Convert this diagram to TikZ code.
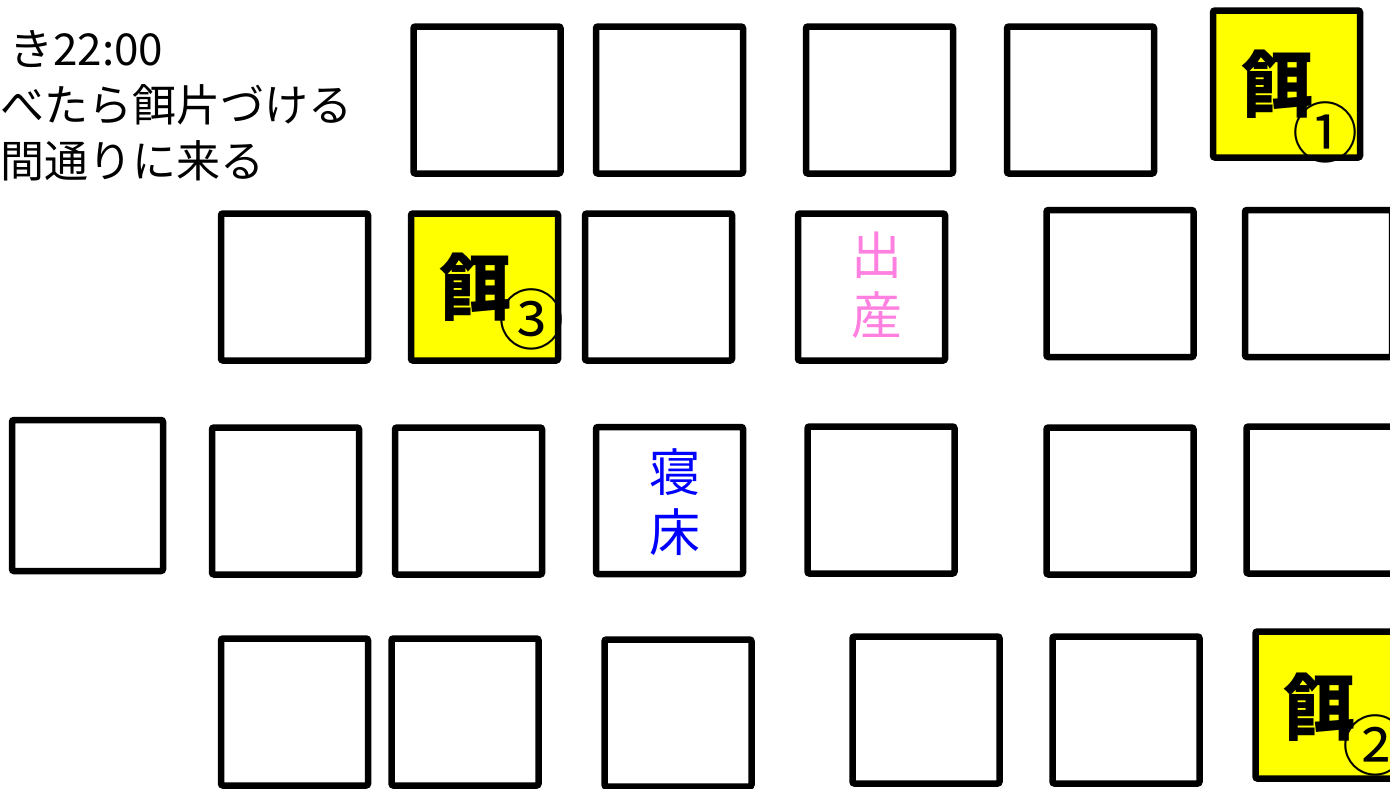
\documentclass[tikz,border=0pt]{standalone}
\usepackage{fontspec}
\setmainfont{Noto Sans CJK JP}
\definecolor{feedyellow}{RGB}{255,255,0}
\definecolor{birthpink}{RGB}{255,128,224}
\definecolor{bedblue}{RGB}{0,0,255}
\begin{document}
\begin{tikzpicture}[x=1pt,y=-1pt,
  box/.style={draw, line width=6.5pt, rounded corners=2pt, rectangle, minimum size=147pt, inner sep=0pt, fill=white},
  feed/.style={box, fill=feedyellow},
  feedtxt/.style={inner sep=0pt, font=\fontsize{72}{80}\selectfont\bfseries},
  numtxt/.style={inner sep=0pt, font=\fontsize{66}{70}\selectfont},
  roomtxt/.style={inner sep=0pt, font=\fontsize{51}{56}\selectfont},
  note/.style={inner sep=0pt, anchor=base west, font=\fontsize{44}{52}\selectfont}]
\useasboundingbox (0,0) rectangle (1390,788);
\clip (0,0) rectangle (1390,788);
% row 1
\node[box] (r1a) at (487,100) {};
\node[box] (r1b) at (669.5,100) {};
\node[box] (r1c) at (879.5,100) {};
\node[box] (r1d) at (1080.5,100) {};
\node[feed] (f1) at (1286.5,84) {};
% row 2
\node[box] (r2a) at (294.5,287) {};
\node[feed] (f3) at (484.5,287) {};
\node[box] (r2c) at (658.5,287) {};
\node[box] (birth) at (871.5,287) {};
\node[box] (r2e) at (1120,283.5) {};
\node[box] (r2f) at (1318.5,283.5) {};
% row 3
\node[box, minimum size=151pt] (r3a) at (87.5,495.5) {};
\node[box] (r3b) at (285.5,501) {};
\node[box] (r3c) at (468.5,501) {};
\node[box] (bed) at (669.5,500.5) {};
\node[box] (r3e) at (881,500) {};
\node[box] (r3f) at (1120,501) {};
\node[box] (r3g) at (1320,500) {};
% row 4
\node[box] (r4a) at (294.5,712) {};
\node[box] (r4b) at (465,712) {};
\node[box] (r4c) at (678,713) {};
\node[box] (r4d) at (926,710) {};
\node[box] (r4e) at (1126,710) {};
\node[feed] (f2) at (1329,705) {};
% labels in boxes
\node[feedtxt] (f1t) at (1277,84) {餌};
\node[numtxt] (f1n) at (1325,132) {①};
\node[feedtxt] (f3t) at (475,287) {餌};
\node[numtxt] (f3n) at (531,319) {③};
\node[feedtxt] (f2t) at (1319,707) {餌};
\node[numtxt] (f2n) at (1375,745) {②};
\node[roomtxt, text=birthpink] (birth1) at (877,255) {出};
\node[roomtxt, text=birthpink] (birth2) at (877,315) {産};
\node[roomtxt, text=bedblue] (bed1) at (675,472) {寝};
\node[roomtxt, text=bedblue] (bed2) at (675,532) {床};
% notes
\node[note] (n1) at (9,65) {き22:00};
\node[note] (n2) at (0,121) {べたら餌片づける};
\node[note] (n3) at (0,177) {間通りに来る};
\end{tikzpicture}
\end{document}
